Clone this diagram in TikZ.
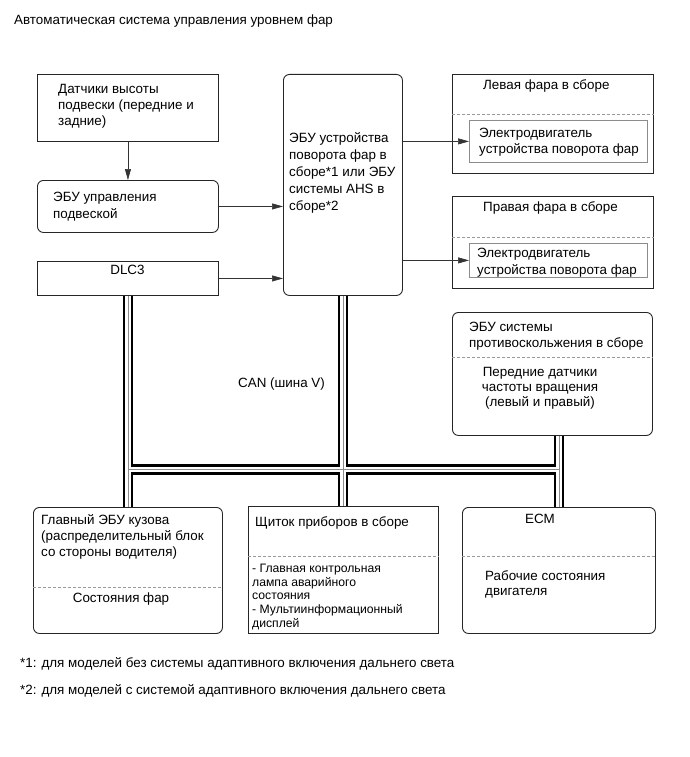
\documentclass[tikz,border=0pt]{standalone}
\usepackage{fontspec}
\setmainfont{Liberation Sans}
\usetikzlibrary{arrows.meta}

\begin{document}
\begin{tikzpicture}[x=1pt,y=-1pt,
  every node/.style={font=\fontsize{13.4}{16.5}\selectfont, inner sep=0pt},
  lead/.style={font=\fontsize{13.4}{#1}\selectfont},
  box/.style={draw=black!85, line width=0.9pt, anchor=north west},
  rbox/.style={box, rounded corners=6pt},
  motbox/.style={draw=black!45, line width=0.8pt, anchor=north west},
  sep/.style={draw=black!40, dash pattern=on 3pt off 2pt, line width=0.8pt},
  txt/.style={anchor=base west, align=left},
  ctxt/.style={anchor=base, align=center},
  small/.style={font=\fontsize{12.2}{13.8}\selectfont},
  arr/.style={-{Triangle[length=11pt,width=6pt]}, line width=0.6pt, black!80}]

\useasboundingbox (0,0) rectangle (690,757);

\node[txt] (title) at (14,25) {Автоматическая система управления уровнем фар};

\node[box, minimum width=181pt, minimum height=67pt] (sens) at (37,74) {};
\node[rbox, minimum width=181pt, minimum height=52pt] (susp) at (37,180) {};
\node[box, minimum width=181pt, minimum height=34pt] (dlc) at (37,261) {};
\node[rbox, minimum width=119pt, minimum height=221pt] (swiv) at (283,74) {};

\node[box, minimum width=201pt, minimum height=99pt] (lhl) at (452,74) {};
\node[motbox, minimum width=178pt, minimum height=42pt] (lmot) at (469,120) {};
\node[box, minimum width=201pt, minimum height=92pt] (rhl) at (452,196) {};
\node[motbox, minimum width=178pt, minimum height=34pt] (rmot) at (469,243) {};
\node[rbox, minimum width=200pt, minimum height=123pt] (vsc) at (452,312) {};

\node[rbox, minimum width=189pt, minimum height=126pt] (body) at (33,507) {};
\node[box, minimum width=190pt, minimum height=127pt] (meter) at (248,506) {};
\node[rbox, minimum width=193pt, minimum height=126pt] (ecm) at (462,507) {};

\draw[sep] (lhl.west |- 0,114) -- (lhl.east |- 0,114);
\draw[sep] (rhl.west |- 0,237) -- (rhl.east |- 0,237);
\draw[sep] (vsc.west |- 0,357) -- (vsc.east |- 0,357);
\draw[sep] (body.west |- 0,587) -- (body.east |- 0,587);
\draw[sep] (meter.west |- 0,556) -- (meter.east |- 0,556);
\draw[sep] (ecm.west |- 0,556) -- (ecm.east |- 0,556);

% base of a multi-line node = baseline of its last line
\node[txt, lead=15.7] (tsens) at (58,125) {Датчики высоты\\подвески (передние и\\задние)};
\node[txt, lead=17] (tsusp) at (53,218.5) {ЭБУ управления\\подвеской};
\node[ctxt] (tdlc) at (127.5,274.5) {DLC3};
\node[txt, lead=17] (tswiv) at (289,210.5) {ЭБУ устройства\\поворота фар в\\сборе*1 или ЭБУ\\системы AHS в\\сборе*2};
\node[txt] (tlhl) at (483,89.5) {Левая фара в сборе};
\node[txt, lead=16] (tlmot) at (479,153.5) {Электродвигатель\\устройства поворота фар};
\node[txt] (trhl) at (483,211.5) {Правая фара в сборе};
\node[txt, lead=17] (trmot) at (477,274.5) {Электродвигатель\\устройства поворота фар};
\node[txt, lead=15.5] (tvsc) at (469,347) {ЭБУ системы\\противоскольжения в сборе};
\node[ctxt, lead=15] (tspd) at (540,406) {Передние датчики\\частоты вращения\\(левый и правый)};
\node[txt] (tcan) at (238,387.5) {CAN (шина V)};

\node[txt, lead=16] (tbody) at (41,556.5) {Главный ЭБУ кузова\\(распределительный блок\\со стороны водителя)};
\node[ctxt] (thead) at (121,602.5) {Состояния фар};
\node[txt] (tmeter) at (255,526.5) {Щиток приборов в сборе};
\node[txt, small] (titems) at (252,627.5) {- Главная контрольная\\лампа аварийного\\состояния\\- Мультиинформационный\\дисплей};
\node[ctxt] (tecm) at (540,523.5) {ECM};
\node[txt, lead=15.5] (teng) at (485,595.5) {Рабочие состояния\\двигателя};

\node[txt] (fn1) at (20,667) {*1: для моделей без системы адаптивного включения дальнего света};
\node[txt] (fn2) at (20,694.5) {*2: для моделей с системой адаптивного включения дальнего света};

\draw[arr] (sens.south) -- (susp.north);
\draw[arr] (susp.east) -- (susp.east -| swiv.west);
\draw[arr] (dlc.east) -- (dlc.east -| swiv.west);
\draw[arr] (lmot.west -| swiv.east) -- (lmot.west);
\draw[arr] (rmot.west -| swiv.east) -- (rmot.west);

\coordinate (jl) at (dlc.south |- 0,469.5);
\coordinate (jr) at (ecm.north |- 0,469.5);
\foreach \w/\c in {10.5/black, 5.5/white, 0.8/black!45} {
  \draw[line width=\w pt, \c] (dlc.south) -- (body.north)
    (swiv.south) -- (swiv.south |- meter.north)
    (vsc.south -| ecm.north) -- (ecm.north)
    (jl) -- (jr);
}

\end{tikzpicture}
\end{document}
